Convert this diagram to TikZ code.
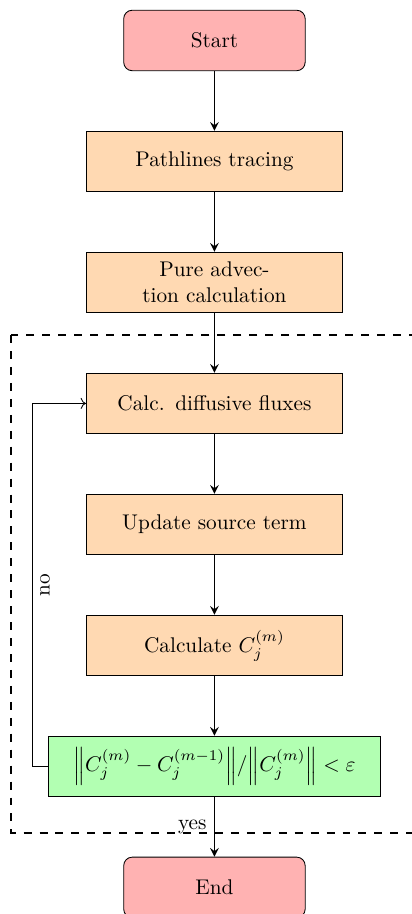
\documentclass[tikz,border=0pt]{standalone}
\usepackage{amsmath}
\usepackage{amssymb}
\usepackage{tikz}
\usetikzlibrary{shapes, arrows.meta, positioning}
\tikzstyle{startstop} = [rectangle, rounded corners, minimum width=3cm, minimum height=1cm, text centered, draw=black, fill=red!30]
\tikzstyle{process} = [rectangle, minimum width=3cm, minimum height=1cm, text centered, text width=4cm, draw=black, fill=orange!30]
\tikzstyle{decision} = [rectangle, minimum width=5.5cm, minimum height=1cm, text centered, draw=black, fill=green!30]
\tikzstyle{arrow} = [thick, ->, >=stealth]

\begin{document}
\begin{tikzpicture}[auto, node distance=2cm]
  \useasboundingbox (-3.545,0.669) rectangle (3.264,-14.44);
  \node[startstop] (start) {Start};
  \node[process, below of=start] (trace) {Pathlines tracing};
  \node[process, below of=trace] (advec) {Pure advection calculation};
  \node[process, below of=advec] (diff) {Calc. diffusive fluxes};
  \node[process, below of=diff] (source) {Update source term};
  \node[process, below of=source] (calc) {Calculate $C_j^{(m)}$};
  \node[decision, below of=calc] (conv) {$\left\|C_j^{(m)} - C_j^{(m-1)}\right\|\!/\!\left\|C_j^{(m)}\right\| < \varepsilon$};
  \node[startstop, below of=conv] (stop) {End};
  % inner loop
  \draw[thick, dash pattern=on 3.75pt off 3.75pt] (-3.36,-4.87) rectangle (3.36,-13.1);
  \draw[arrow] (start) -- (trace);
  \draw[arrow] (trace) -- (advec);
  \draw[arrow] (advec) -- (diff);
  \draw[arrow] (diff) -- (source);
  \draw[arrow] (source) -- (calc);
  \draw[arrow] (calc) -- (conv);
  \draw[->] (conv.west) -- ++(-0.25,0) |- node[pos=0.25, sloped, below] {no} (diff.west);
  \draw[arrow] (conv) -- node[left] {yes} (stop);
\end{tikzpicture}
\end{document}
